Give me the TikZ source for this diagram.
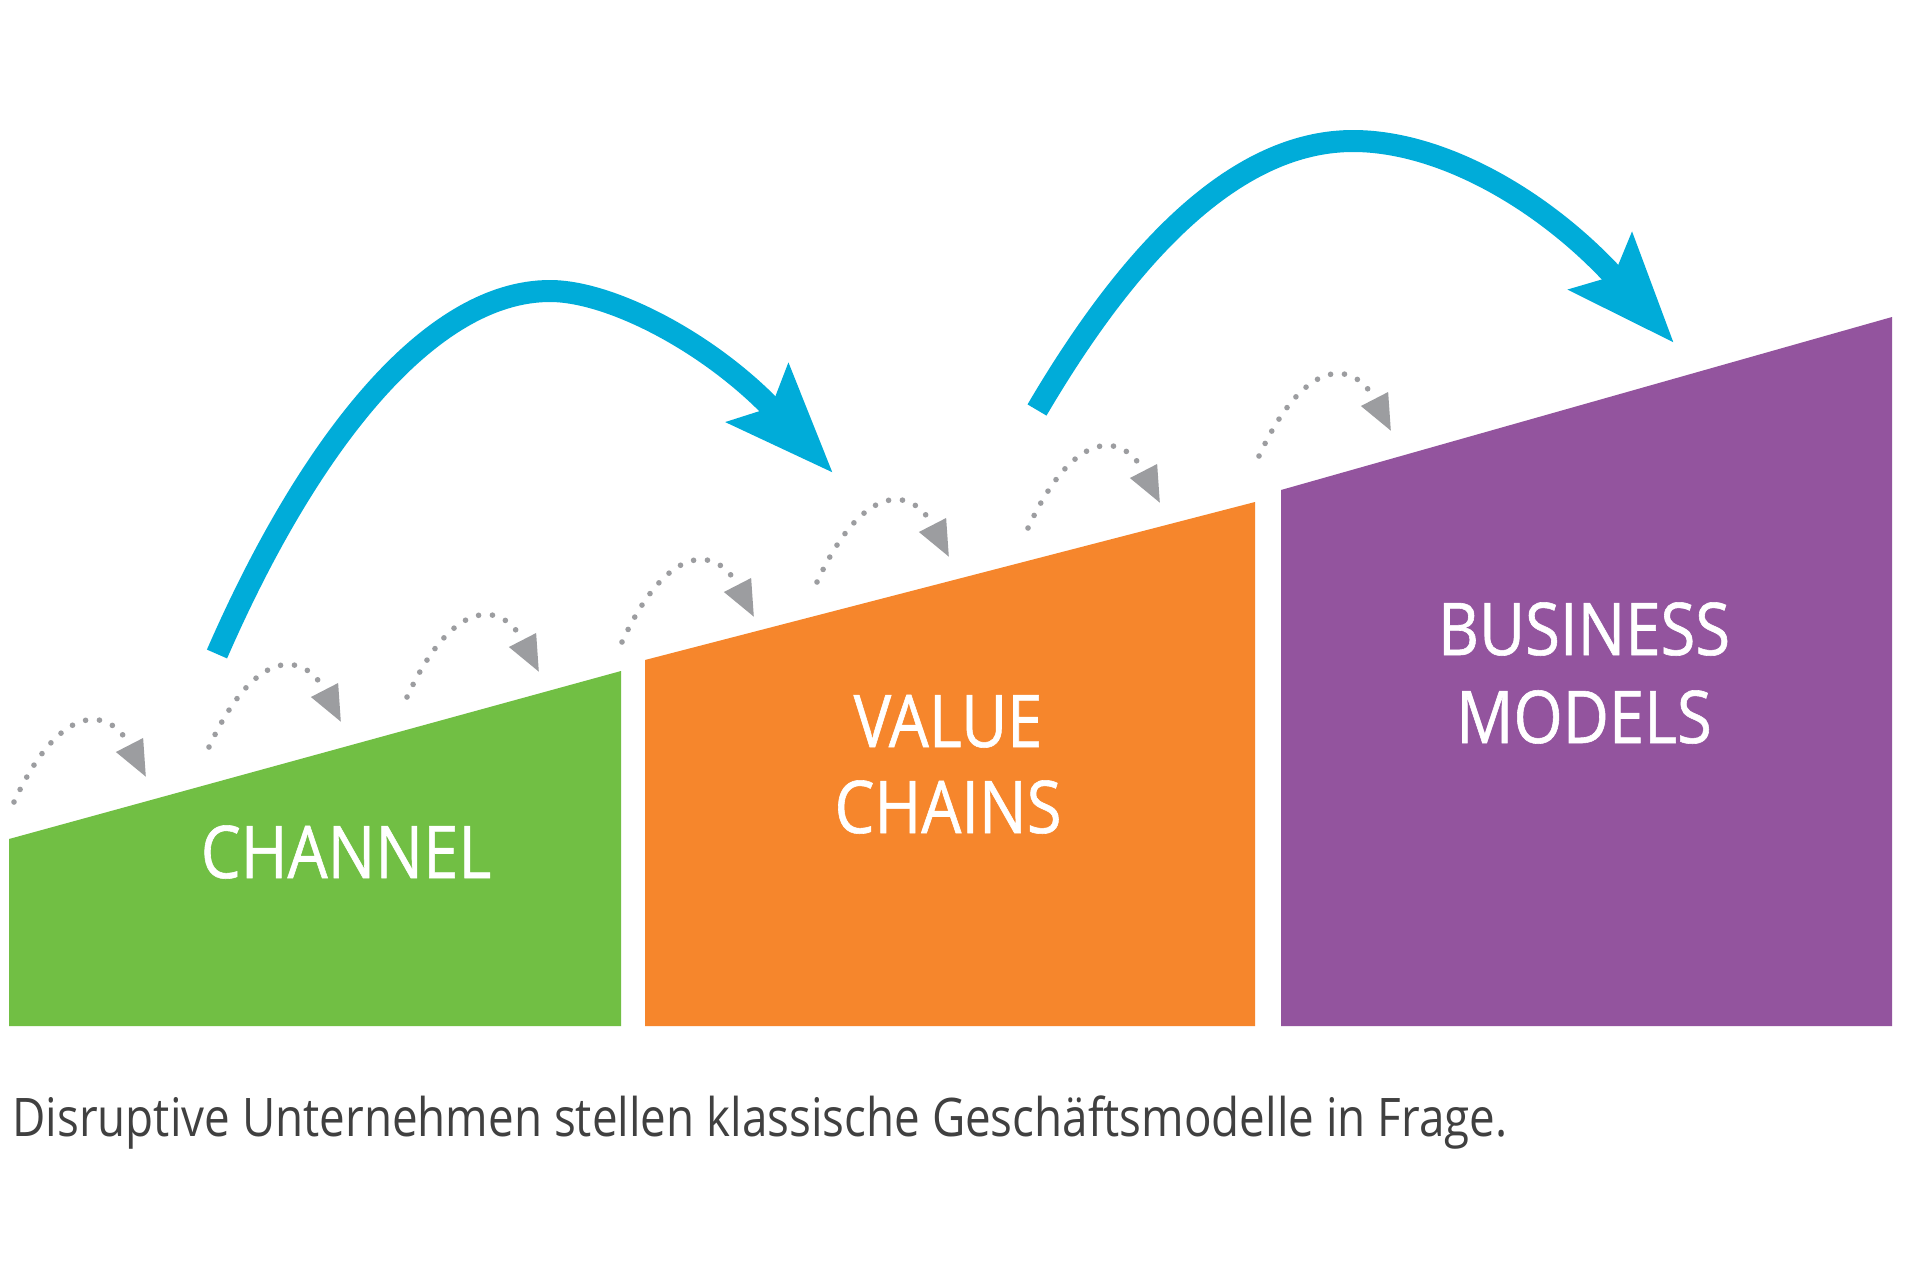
\documentclass[tikz,border=0pt]{standalone}
\usepackage{fontspec}
\setmainfont{Open Sans}
\newfontfamily\labelfont[FakeStretch=0.87,FakeBold=0.8]{Open Sans}
\newfontfamily\captfont[FakeStretch=0.86]{Open Sans}
\usetikzlibrary{arrows.meta}
\definecolor{cgreen}{HTML}{71BF44}
\definecolor{corange}{HTML}{F6862C}
\definecolor{cpurple}{HTML}{93549E}
\definecolor{cblue}{HTML}{00ACD9}
\definecolor{cgray}{HTML}{9C9DA0}
\definecolor{ctext}{HTML}{404040}
\begin{document}
\begin{tikzpicture}[x=0.5pt,y=-0.5pt,
  lbl/.style={text=white,font=\labelfont\fontsize{36.4}{43.5}\selectfont,inner sep=0pt,anchor=base},
  jump/.style={cblue,line width=11pt,-{Stealth[length=54pt,width=41pt,inset=9pt]}},
  hop/.style={cgray,line width=2.8pt,line cap=round,dash pattern=on 0pt off 7pt,-{Triangle[length=18pt,width=14.5pt]}}
]
\useasboundingbox (0,0) rectangle (1920,1280);
\fill[white] (0,0) rectangle (1920,1280);
% blocks
\fill[cgreen]  (9,1026) -- (9,839) -- (621,671) -- (621,1026) -- cycle;
\fill[corange] (645,1026) -- (645,660) -- (1255,502) -- (1255,1026) -- cycle;
\fill[cpurple] (1281,1026) -- (1281,490) -- (1892,317) -- (1892,1026) -- cycle;
% labels
\node[lbl] (ch)  at (346,878) {CHANNEL};
\node[lbl] (vc1) at (948,747) {VALUE};
\node[lbl] (vc2) at (948,833) {CHAINS};
\node[lbl] (bm1) at (1584,655) {BUSINESS};
\node[lbl] (bm2) at (1584,743) {MODELS};
% small dotted hops
\foreach \i/\sx/\sy in {1/14/802,2/209/747,3/407/697,4/622/642,5/817/582,6/1028/528,7/1259/456}{
  \coordinate (h\i s) at (\sx,\sy);
  \coordinate (h\i e) at (\sx+132,\sy-25);
  \draw[hop] (h\i s) .. controls +(47,-101.7) and +(-36.2,-70.3) .. (h\i e);
}
% big blue jumps
\coordinate (a1s) at (217,654);
\coordinate (a1p) at (550,291);
\coordinate (a1e) at (833,473);
\draw[jump] (a1s) .. controls +(92,-211) and +(-120,0) .. (a1p)
                  .. controls +(60,0) and +(-123.5,-130.9) .. (a1e);
\coordinate (a2s) at (1037,410);
\coordinate (a2p) at (1353,141);
\coordinate (a2e) at (1674,343);
\draw[jump] (a2s) .. controls +(105.3,-179.3) and +(-105.3,0) .. (a2p)
                  .. controls +(90,0) and +(-127.1,-141.2) .. (a2e);
% caption
\node[anchor=base west,inner sep=0pt,text=ctext,font=\captfont\fontsize{26.6}{30}\selectfont] (cap) at (12,1136) {Disruptive Unternehmen stellen klassische Geschäftsmodelle in Frage.};
\end{tikzpicture}
\end{document}
